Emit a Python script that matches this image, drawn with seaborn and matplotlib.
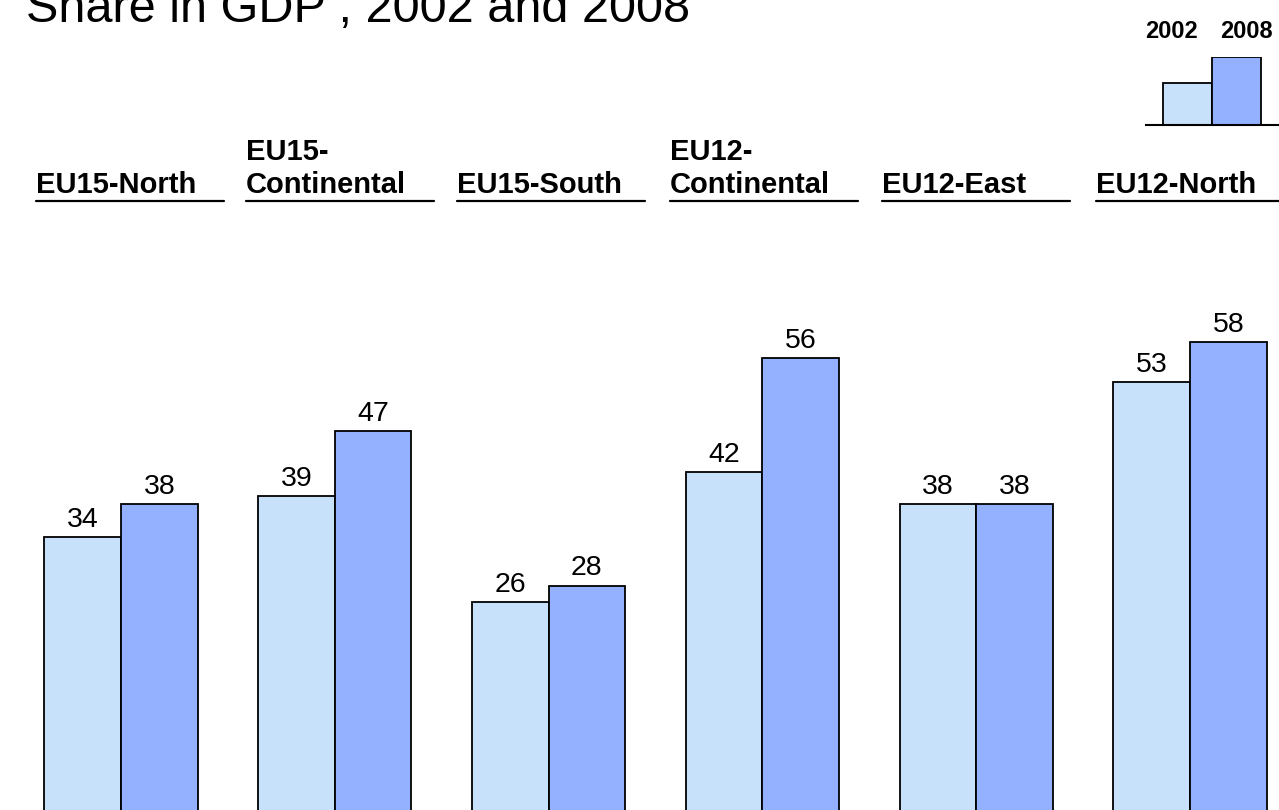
import matplotlib
matplotlib.use("Agg")
import matplotlib.pyplot as plt
import seaborn as sns
import pandas as pd
from matplotlib.lines import Line2D

# ---- data ----
regions = ["EU15-North", "EU15-\nContinental", "EU15-South",
           "EU12-\nContinental", "EU12-East", "EU12-North"]
years = ["2002", "2008"]
values_2002 = [34, 39, 26, 42, 38, 53]
values_2008 = [38, 47, 28, 56, 38, 58]
legend_sample = [42, 68]
title_text = "Share in GDP , 2002 and 2008"

colors = ["#C7E1FA", "#93B1FE"]

sns.set_style("white")
plt.rcParams["font.family"] = ["Liberation Sans", "DejaVu Sans"]
plt.rcParams["text.color"] = "black"

W, H = 1279, 810
fig = plt.figure(figsize=(W / 100, H / 100), dpi=100)

def fx(px):
    return px / W

def fy(py):
    return 1 - py / H

df = pd.DataFrame({
    "region": regions * 2,
    "year": [years[0]] * len(regions) + [years[1]] * len(regions),
    "value": values_2002 + values_2008,
})

ax = fig.add_axes([0, 0, 1, 1])
sns.barplot(data=df, x="region", y="value", hue="year", order=regions,
            hue_order=years, palette=colors, saturation=1, width=0.716, gap=0,
            edgecolor="black", linewidth=1.3, ax=ax, legend=False)
for c in ax.containers:
    ax.bar_label(c, fmt="%d", padding=3, fontsize=20.5, color="black")

# pixel mapping: center_i = 121 + 213.8*i ; y = 813 - 8.125*v
ax.set_xlim(-121 / 213.8, (W - 121) / 213.8)
ax.set_ylim((813 - H) / 8.125, 813 / 8.125)
ax.set_axis_off()

# ---- region headers ----
header_left = [36, 246, 457, 670, 882, 1096]
for lab, xl in zip(regions, header_left):
    lines = lab.split("\n")
    for k, line in enumerate(reversed(lines)):
        fig.text(fx(xl), fy(193 - 33 * k), line, fontsize=21, fontweight="bold",
                 ha="left", va="baseline", color="black")
    fig.add_artist(Line2D([fx(xl), fx(xl + 188)], [fy(201), fy(201)],
                          color="black", linewidth=1.6))

# ---- legend ----
lax = fig.add_axes([fx(1146), fy(125), fx(1279) - fx(1146), fy(57) - fy(125)])
lax.bar([0, 1], legend_sample, width=1, color=colors, edgecolor="black",
        linewidth=1.3)
lax.set_xlim(-0.5 - 17 / 49, -0.5 + 133 / 49 - 17 / 49)
lax.set_ylim(0, max(legend_sample))
for s in ["top", "left", "right"]:
    lax.spines[s].set_visible(False)
lax.spines["bottom"].set_linewidth(1.5)
lax.spines["bottom"].set_color("black")
lax.set_xticks([])
lax.set_yticks([])
lax.patch.set_alpha(0)
fig.text(fx(1171), fy(38), years[0], fontsize=17, fontweight="bold",
         ha="center", va="baseline", color="black")
fig.text(fx(1246), fy(38), years[1], fontsize=17, fontweight="bold",
         ha="center", va="baseline", color="black")

# ---- title (cropped at top, as in the reference) ----
fig.text(fx(690), fy(22), title_text, fontsize=35, ha="right", va="baseline",
         color="black")

fig.savefig("out.png", dpi=100)
